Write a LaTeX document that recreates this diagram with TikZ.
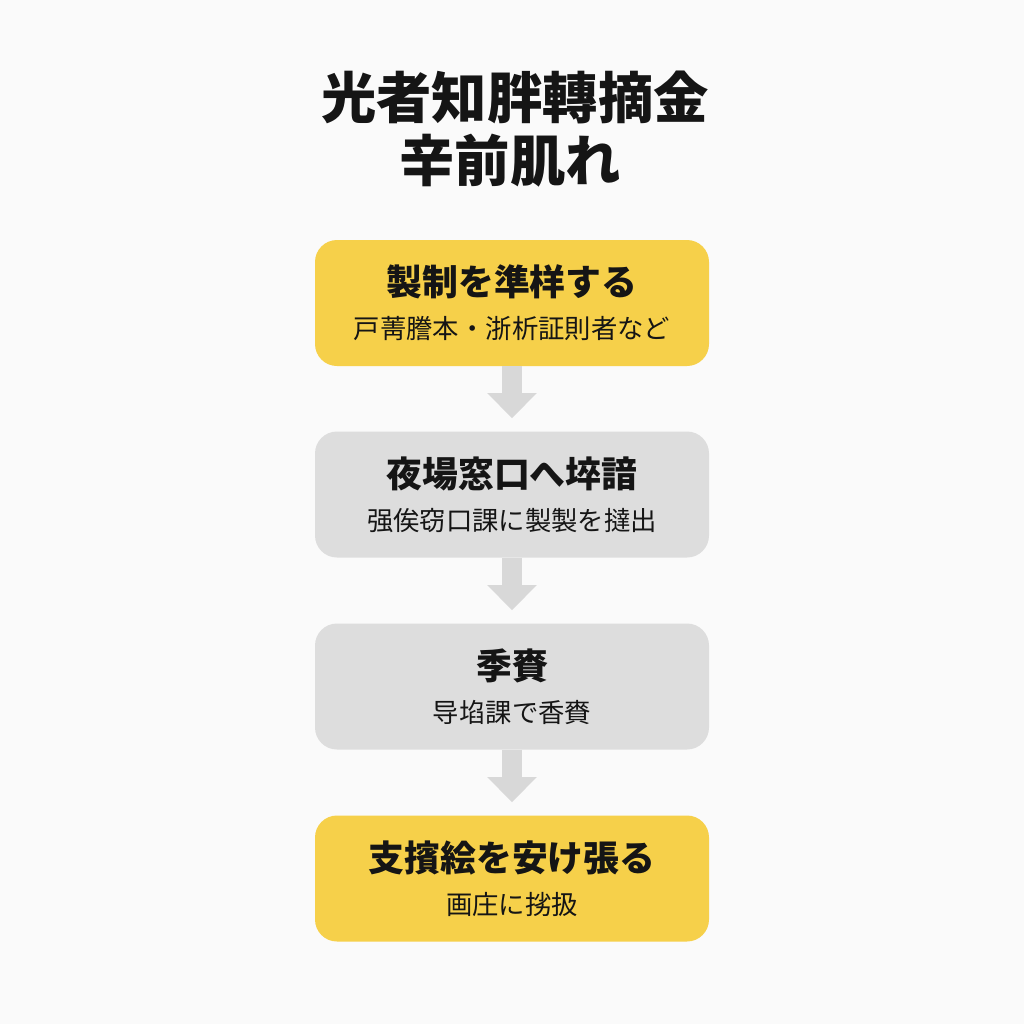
\documentclass[tikz,border=0pt]{standalone}
\usepackage{fontspec}
\setmainfont{Noto Sans CJK JP}
\usetikzlibrary{arrows.meta}
\definecolor{stepyellow}{HTML}{F6D04A}
\definecolor{stepgray}{HTML}{DDDDDD}
\definecolor{arrowgray}{HTML}{D8D8D8}
\definecolor{inkblack}{HTML}{151515}
\tikzset{
	stepbox/.style={rounded corners=0.44cm, minimum width=7.88cm, minimum height=2.52cm, align=center, text=inkblack, inner sep=0pt},
	flowarrow/.style={draw=arrowgray, line width=0.4cm, -{Triangle[length=0.5cm, width=0.96cm]}, shorten >=0.26cm},
}
\newcommand{\boxhead}[1]{{\fontsize{20.4}{24}\selectfont\bfseries #1}}
\newcommand{\boxsub}[1]{{\fontsize{15}{18}\selectfont #1}}

\begin{document}
\begin{tikzpicture}
			%%%%% START %%%%%
			
			\fill[white!98!black] (0, 0) rectangle (20.48, -20.48);
			\useasboundingbox (0, 0) rectangle (20.48, -20.48);
			
			\node[text=inkblack, font=\fontsize{31.5}{36}\selectfont\bfseries] (title1) at (10.3, -1.94) {光者知胖轉摘金};
			\node[text=inkblack, font=\fontsize{31.5}{36}\selectfont\bfseries] (title2) at (10.2, -3.22) {辛前肌れ};
			
			\node[stepbox, fill=stepyellow] (prep) at (10.24, -6.06) {\boxhead{製制を準样する}\\[9pt]\boxsub{戸菁謄本・浙析証則者など}};
			\node[stepbox, fill=stepgray] (office) at (10.24, -9.89) {\boxhead{夜場窓口へ埣諳}\\[9pt]\boxsub{强俟窃口課に製製を撻出}};
			\node[stepbox, fill=stepgray] (review) at (10.24, -13.73) {\boxhead{季賚}\\[9pt]\boxsub{导埳課で香賚}};
			\node[stepbox, fill=stepyellow] (receive) at (10.24, -17.57) {\boxhead{支擯絵を安け張る}\\[9pt]\boxsub{画庄に挘扱}};
			
			\draw[flowarrow] (prep.south) -- (office.north);
			\draw[flowarrow] (office.south) -- (review.north);
			\draw[flowarrow] (review.south) -- (receive.north);
			
			%%%%% END %%%%%
		\end{tikzpicture}
\end{document}
